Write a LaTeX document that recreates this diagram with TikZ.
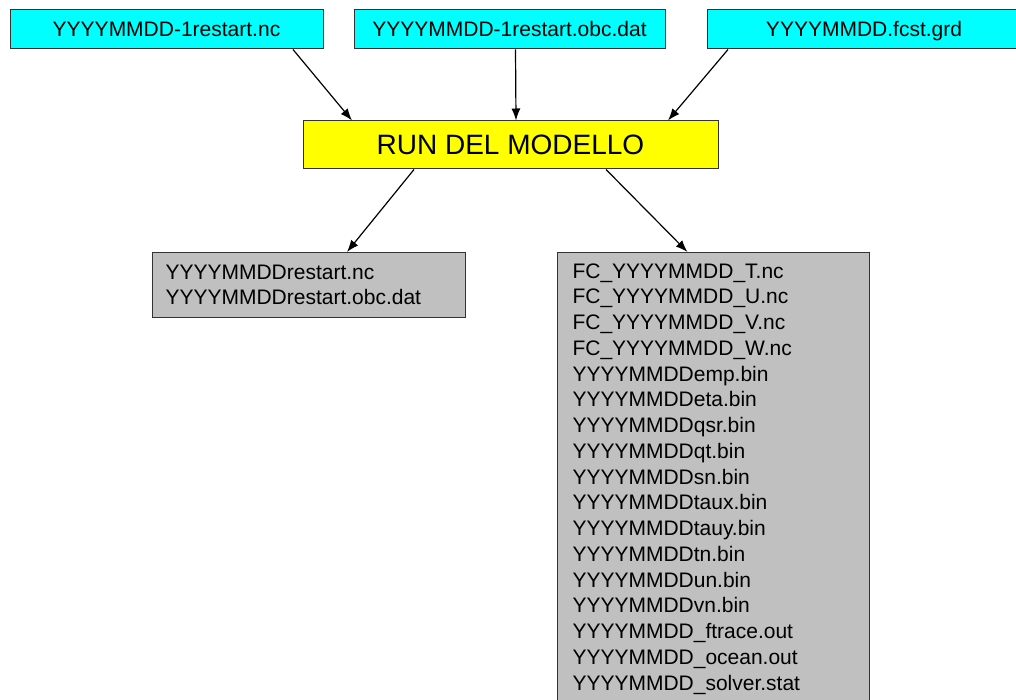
\documentclass[tikz,border=0pt]{standalone}
\usepackage{fontspec}
\setmainfont{Liberation Sans}
\usetikzlibrary{arrows.meta}
\definecolor{incyan}{HTML}{00FFFF}
\definecolor{runyellow}{HTML}{FFFF00}
\definecolor{outgray}{HTML}{C0C0C0}
\tikzset{
    filebox/.style={draw=black!80, line width=1pt, font=\fontsize{21}{25.75}\selectfont},
    inbox/.style={filebox, fill=incyan, inner sep=0pt, minimum height=39pt, text height=15pt, text depth=0pt},
    runbox/.style={filebox, fill=runyellow, inner sep=0pt, minimum width=415pt, minimum height=48pt, font=\fontsize{28}{30}\selectfont},
    outbox/.style={filebox, fill=outgray, anchor=north west, align=left, inner xsep=13pt, inner ysep=12pt},
    flow/.style={-{Latex[length=12pt,width=9pt]}, line width=1.2pt}
}
\begin{document}
\begin{tikzpicture}[x=1pt, y=-1pt]
    \useasboundingbox (0,0) rectangle (1016,700);
    \clip (0,0) rectangle (1016,700);
    \node [inbox, minimum width=313pt] (in1) at (166.5,29.5) {YYYYMMDD-1restart.nc};
    \node [inbox, minimum width=311pt] (in2) at (509.5,29.5) {YYYYMMDD-1restart.obc.dat};
    \node [inbox, minimum width=314pt] (in3) at (864,29.5) {YYYYMMDD.fcst.grd};
    \node [runbox] (run) at (510.5,145) {RUN DEL MODELLO};
    \node [outbox, text width=287pt, minimum height=65pt] (out1) at (152,252)
        {YYYYMMDDrestart.nc\\YYYYMMDDrestart.obc.dat};
    \node [outbox, text width=282pt, inner xsep=15pt, inner ysep=11pt] (out2) at (557,252)
        {FC\_YYYYMMDD\_T.nc\\FC\_YYYYMMDD\_U.nc\\FC\_YYYYMMDD\_V.nc\\FC\_YYYYMMDD\_W.nc\\
         YYYYMMDDemp.bin\\YYYYMMDDeta.bin\\YYYYMMDDqsr.bin\\YYYYMMDDqt.bin\\
         YYYYMMDDsn.bin\\YYYYMMDDtaux.bin\\YYYYMMDDtauy.bin\\YYYYMMDDtn.bin\\
         YYYYMMDDun.bin\\YYYYMMDDvn.bin\\YYYYMMDD\_ftrace.out\\YYYYMMDD\_ocean.out\\
         YYYYMMDD\_solver.stat};
    \draw [flow] ([xshift=126.5pt]in1.south) -- ([xshift=-158.5pt]run.north);
    \draw [flow] ([xshift=6pt]in2.south) -- ([xshift=5.5pt]run.north);
    \draw [flow] ([xshift=-136pt]in3.south) -- ([xshift=157.5pt]run.north);
    \draw [flow] ([xshift=-96.5pt]run.south) -- ([xshift=38pt]out1.north);
    \draw [flow] ([xshift=95.5pt]run.south) -- ([xshift=-26pt]out2.north);
\end{tikzpicture}
\end{document}
